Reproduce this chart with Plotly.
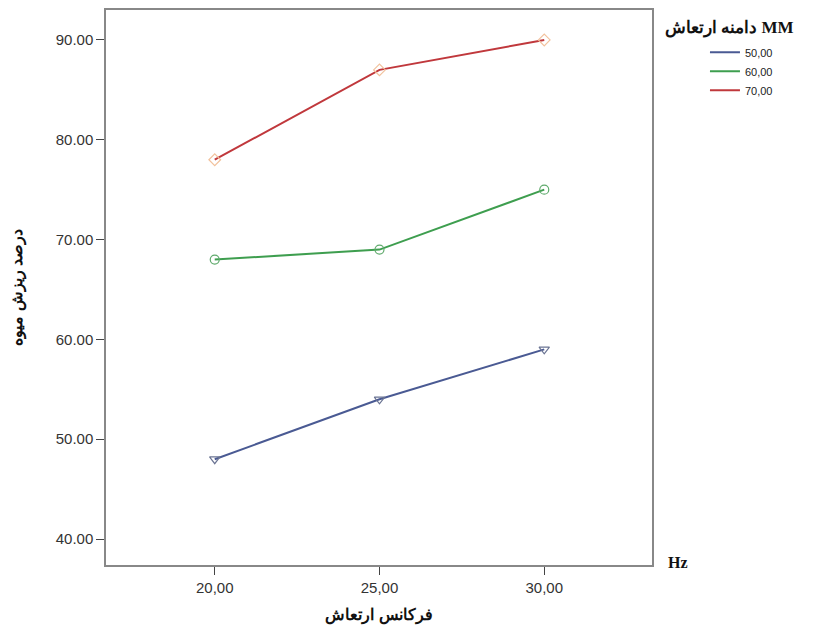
import plotly.graph_objects as go

frequency = [20, 25, 30]
x_tick_labels = ["20,00", "25,00", "30,00"]
y_tick_vals = [40, 50, 60, 70, 80, 90]
y_tick_labels = ["40.00", "50.00", "60.00", "70.00", "80.00", "90.00"]

series_names = ["50,00", "60,00", "70,00"]
drop_50 = [48, 54, 59]
drop_60 = [68, 69, 75]
drop_70 = [78, 87, 90]

series = [
    (series_names[0], drop_50, "#4a5a93", "triangle-down-open", "#6b7493"),
    (series_names[1], drop_60, "#3e9e4f", "circle-open", "#5faa6c"),
    (series_names[2], drop_70, "#c0383c", "diamond-open", "#f2c29d"),
]

fig = go.Figure()
for name, vals, lc, sym, mc in series:
    fig.add_trace(go.Scatter(
        x=frequency, y=vals, mode="lines", name=name,
        line=dict(color=lc, width=2), showlegend=True,
    ))
for name, vals, lc, sym, mc in series:
    fig.add_trace(go.Scatter(
        x=frequency, y=vals, mode="markers", name=name,
        marker=dict(symbol=sym, size=9, color=mc, line=dict(width=1.2, color=mc)),
        showlegend=False,
    ))

fig.update_layout(
    width=813, height=632,
    margin=dict(l=98, r=169, t=0, b=75),
    paper_bgcolor="white", plot_bgcolor="white",
    font=dict(family="Liberation Sans, Arial, sans-serif", color="#222"),
    showlegend=True,
    legend=dict(
        x=1.097, xanchor="left", y=0.95, yanchor="top",
        font=dict(size=11, family="Liberation Sans, Arial, sans-serif", color="#222"),
        itemwidth=30, tracegroupgap=0, bgcolor="rgba(0,0,0,0)",
    ),
    xaxis=dict(
        range=[16.7, 33.27], tickvals=frequency, ticktext=x_tick_labels,
        ticks="outside", ticklen=8, tickcolor="#444",
        showgrid=False, zeroline=False,
        showline=True, linecolor="#888", linewidth=1.5, mirror=True,
        tickfont=dict(size=15, color="#333"),
        title=dict(text="<b>فرکانس ارتعاش</b>", font=dict(size=16, color="#111"), standoff=14),
    ),
    yaxis=dict(
        range=[37.4, 93.0], tickvals=y_tick_vals, ticktext=y_tick_labels,
        ticks="outside", ticklen=8, tickcolor="#444",
        showgrid=False, zeroline=False,
        showline=True, linecolor="#888", linewidth=1.5, mirror=True,
        tickfont=dict(size=15, color="#333"),
        title=dict(text="<b>درصد ریزش میوه</b>", font=dict(size=16, color="#111"), standoff=35),
    ),
    annotations=[
        dict(text="<b>دامنه ارتعاش MM</b>", xref="paper", yref="paper",
             x=1.02, y=0.99, xanchor="left", yanchor="top", showarrow=False,
             font=dict(size=17, family="Liberation Serif, Times New Roman, serif", color="#111")),
        dict(text="<b>Hz</b>", xref="paper", yref="paper",
             x=1.025, y=0.005, xanchor="left", yanchor="middle", showarrow=False,
             font=dict(size=16, family="Liberation Serif, Times New Roman, serif", color="#111")),
    ],
)

fig.write_html("out.html")
